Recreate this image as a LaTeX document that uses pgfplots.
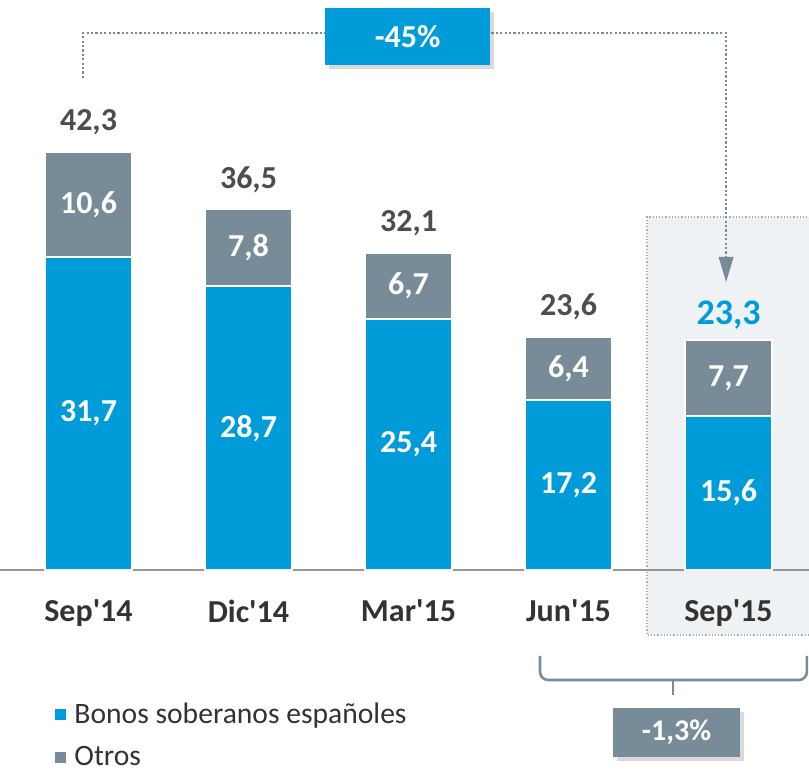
\documentclass[border=0pt]{standalone}
\usepackage{pgfplots}
\pgfplotsset{compat=1.18}
\usepackage{pgfplotstable}
\usepackage{fontspec}
\setmainfont{Carlito}
\usetikzlibrary{shadows}

\definecolor{azul}{RGB}{0,156,218}
\definecolor{gris}{RGB}{119,140,152}
\definecolor{txtgris}{RGB}{77,77,77}
\definecolor{catgris}{RGB}{51,51,51}
\definecolor{fondo}{RGB}{239,242,244}
\definecolor{borde}{RGB}{165,172,178}
\definecolor{linea}{RGB}{150,150,150}

\pgfplotstableread{
x bonos otros total
0 31.7 10.6 42.3
1 28.7 7.8 36.5
2 25.4 6.7 32.1
3 17.2 6.4 23.6
4 15.6 7.7 23.3
}\datos

\newcommand{\fb}{\fontsize{16}{19}\selectfont\bfseries}
\newcommand{\num}{\pgfmathprintnumber[fixed,fixed zerofill,precision=1,use comma,assume math mode=true]{\pgfplotspointmeta}}

\pgfplotsset{lienzo/.style={scale only axis, width=404.5pt, height=385pt,
  xmin=-0.553125, xmax=4.503125, ymin=-20.243, ymax=57.692, clip=false}}

\begin{document}
\begin{tikzpicture}
% recuadro del ultimo trimestre
\fill[fondo] (323.5pt,67.5pt) rectangle (404.5pt,276.5pt);
\draw[borde, line width=0.6pt, dash pattern=on 0.6pt off 1pt]
  (404.5pt,67.5pt) -- (323.5pt,67.5pt) -- (323.5pt,276.5pt) -- (404.5pt,276.5pt);

\begin{axis}[lienzo,
  ybar stacked, bar width=43.5pt,
  axis x line=middle, axis y line=none,
  x axis line style={-, draw=linea, line width=1pt},
  xtick={0,...,4},
  xticklabels={Sep\textquotesingle14, Dic\textquotesingle14, Mar\textquotesingle15, Jun\textquotesingle15, Sep\textquotesingle15},
  major tick length=0pt, ytick=\empty,
  hide obscured x ticks=false,
  xticklabel style={font=\fb, text=catgris, anchor=north, yshift=-11.5pt},
  legend style={at={(axis cs:-0.209,-12.97)}, anchor=north west, draw=none, fill=none,
    inner sep=0pt, font=\fontsize{14.8}{17}\selectfont, text=catgris, row sep=6pt,
    nodes={inner xsep=4pt}},
  legend cell align=left,
  legend image code/.code={\fill[#1,draw=none] (0pt,-2.75pt) rectangle (5.5pt,2.75pt);},
]
\addplot[fill=azul, draw=white, line width=1pt] table[x=x,y=bonos]{\datos};
\addlegendentry{Bonos soberanos españoles}
\addplot[fill=gris, draw=white, line width=1pt] table[x=x,y=otros]{\datos};
\addlegendentry{Otros}
\end{axis}

\begin{axis}[lienzo, hide axis]
% valores dentro de las barras
\addplot[draw=none, point meta=explicit, nodes near coords=\num,
  every node near coord/.style={anchor=center, font=\fb, text=white}]
  table[x=x, y expr=\thisrow{bonos}/2, meta=bonos]{\datos};
\addplot[draw=none, point meta=explicit, nodes near coords=\num,
  every node near coord/.style={anchor=center, font=\fb, text=white}]
  table[x=x, y expr=\thisrow{bonos}+\thisrow{otros}/2, meta=otros]{\datos};
% totales
\addplot[draw=none, point meta=explicit, restrict x to domain=0:3, nodes near coords=\num,
  every node near coord/.style={anchor=center, font=\fb, text=txtgris, yshift=15pt}]
  table[x=x, y=total, meta=total]{\datos};
\addplot[draw=none, point meta=explicit, restrict x to domain=4:4, nodes near coords=\num,
  every node near coord/.style={anchor=center, font=\fontsize{18}{21}\selectfont\bfseries, text=azul, yshift=12.5pt}]
  table[x=x, y=total, meta=total]{\datos};

% flecha -45%
\draw[gris, line width=1.1pt, dash pattern=on 1.1pt off 1.1pt]
  (axis cs:-0.034,49.8) |- (axis cs:3.985,54.35) -- (axis cs:3.985,31.7);
\fill[gris] (axis cs:3.938,31.68) -- (axis cs:4.032,31.68) -- (axis cs:3.985,29.15) -- cycle;
\node[fill=azul, text=white, font=\fb, minimum width=82.5pt, minimum height=28.5pt,
  drop shadow={shadow xshift=2pt, shadow yshift=-2pt, opacity=0.3}]
  at (axis cs:1.994,54.0) {-45\%};

% llave -1,3%
\draw[gris, line width=1.3pt, rounded corners=4pt]
  (axis cs:2.822,-8.70) -- (axis cs:2.822,-11.13) -- (axis cs:4.49,-11.13) -- (axis cs:4.49,-8.70);
\draw[gris, line width=1.3pt] (axis cs:3.653,-11.13) -- (axis cs:3.653,-12.65);
\node[fill=gris, text=white, font=\fontsize{15}{18}\selectfont\bfseries,
  minimum width=63.5pt, minimum height=24.5pt,
  drop shadow={shadow xshift=2pt, shadow yshift=-2pt, opacity=0.3}]
  at (axis cs:3.675,-16.45) {-1,3\%};
\end{axis}
\pgfresetboundingbox
\useasboundingbox (0,0) rectangle (404.5pt,385pt);
\end{tikzpicture}
\end{document}
